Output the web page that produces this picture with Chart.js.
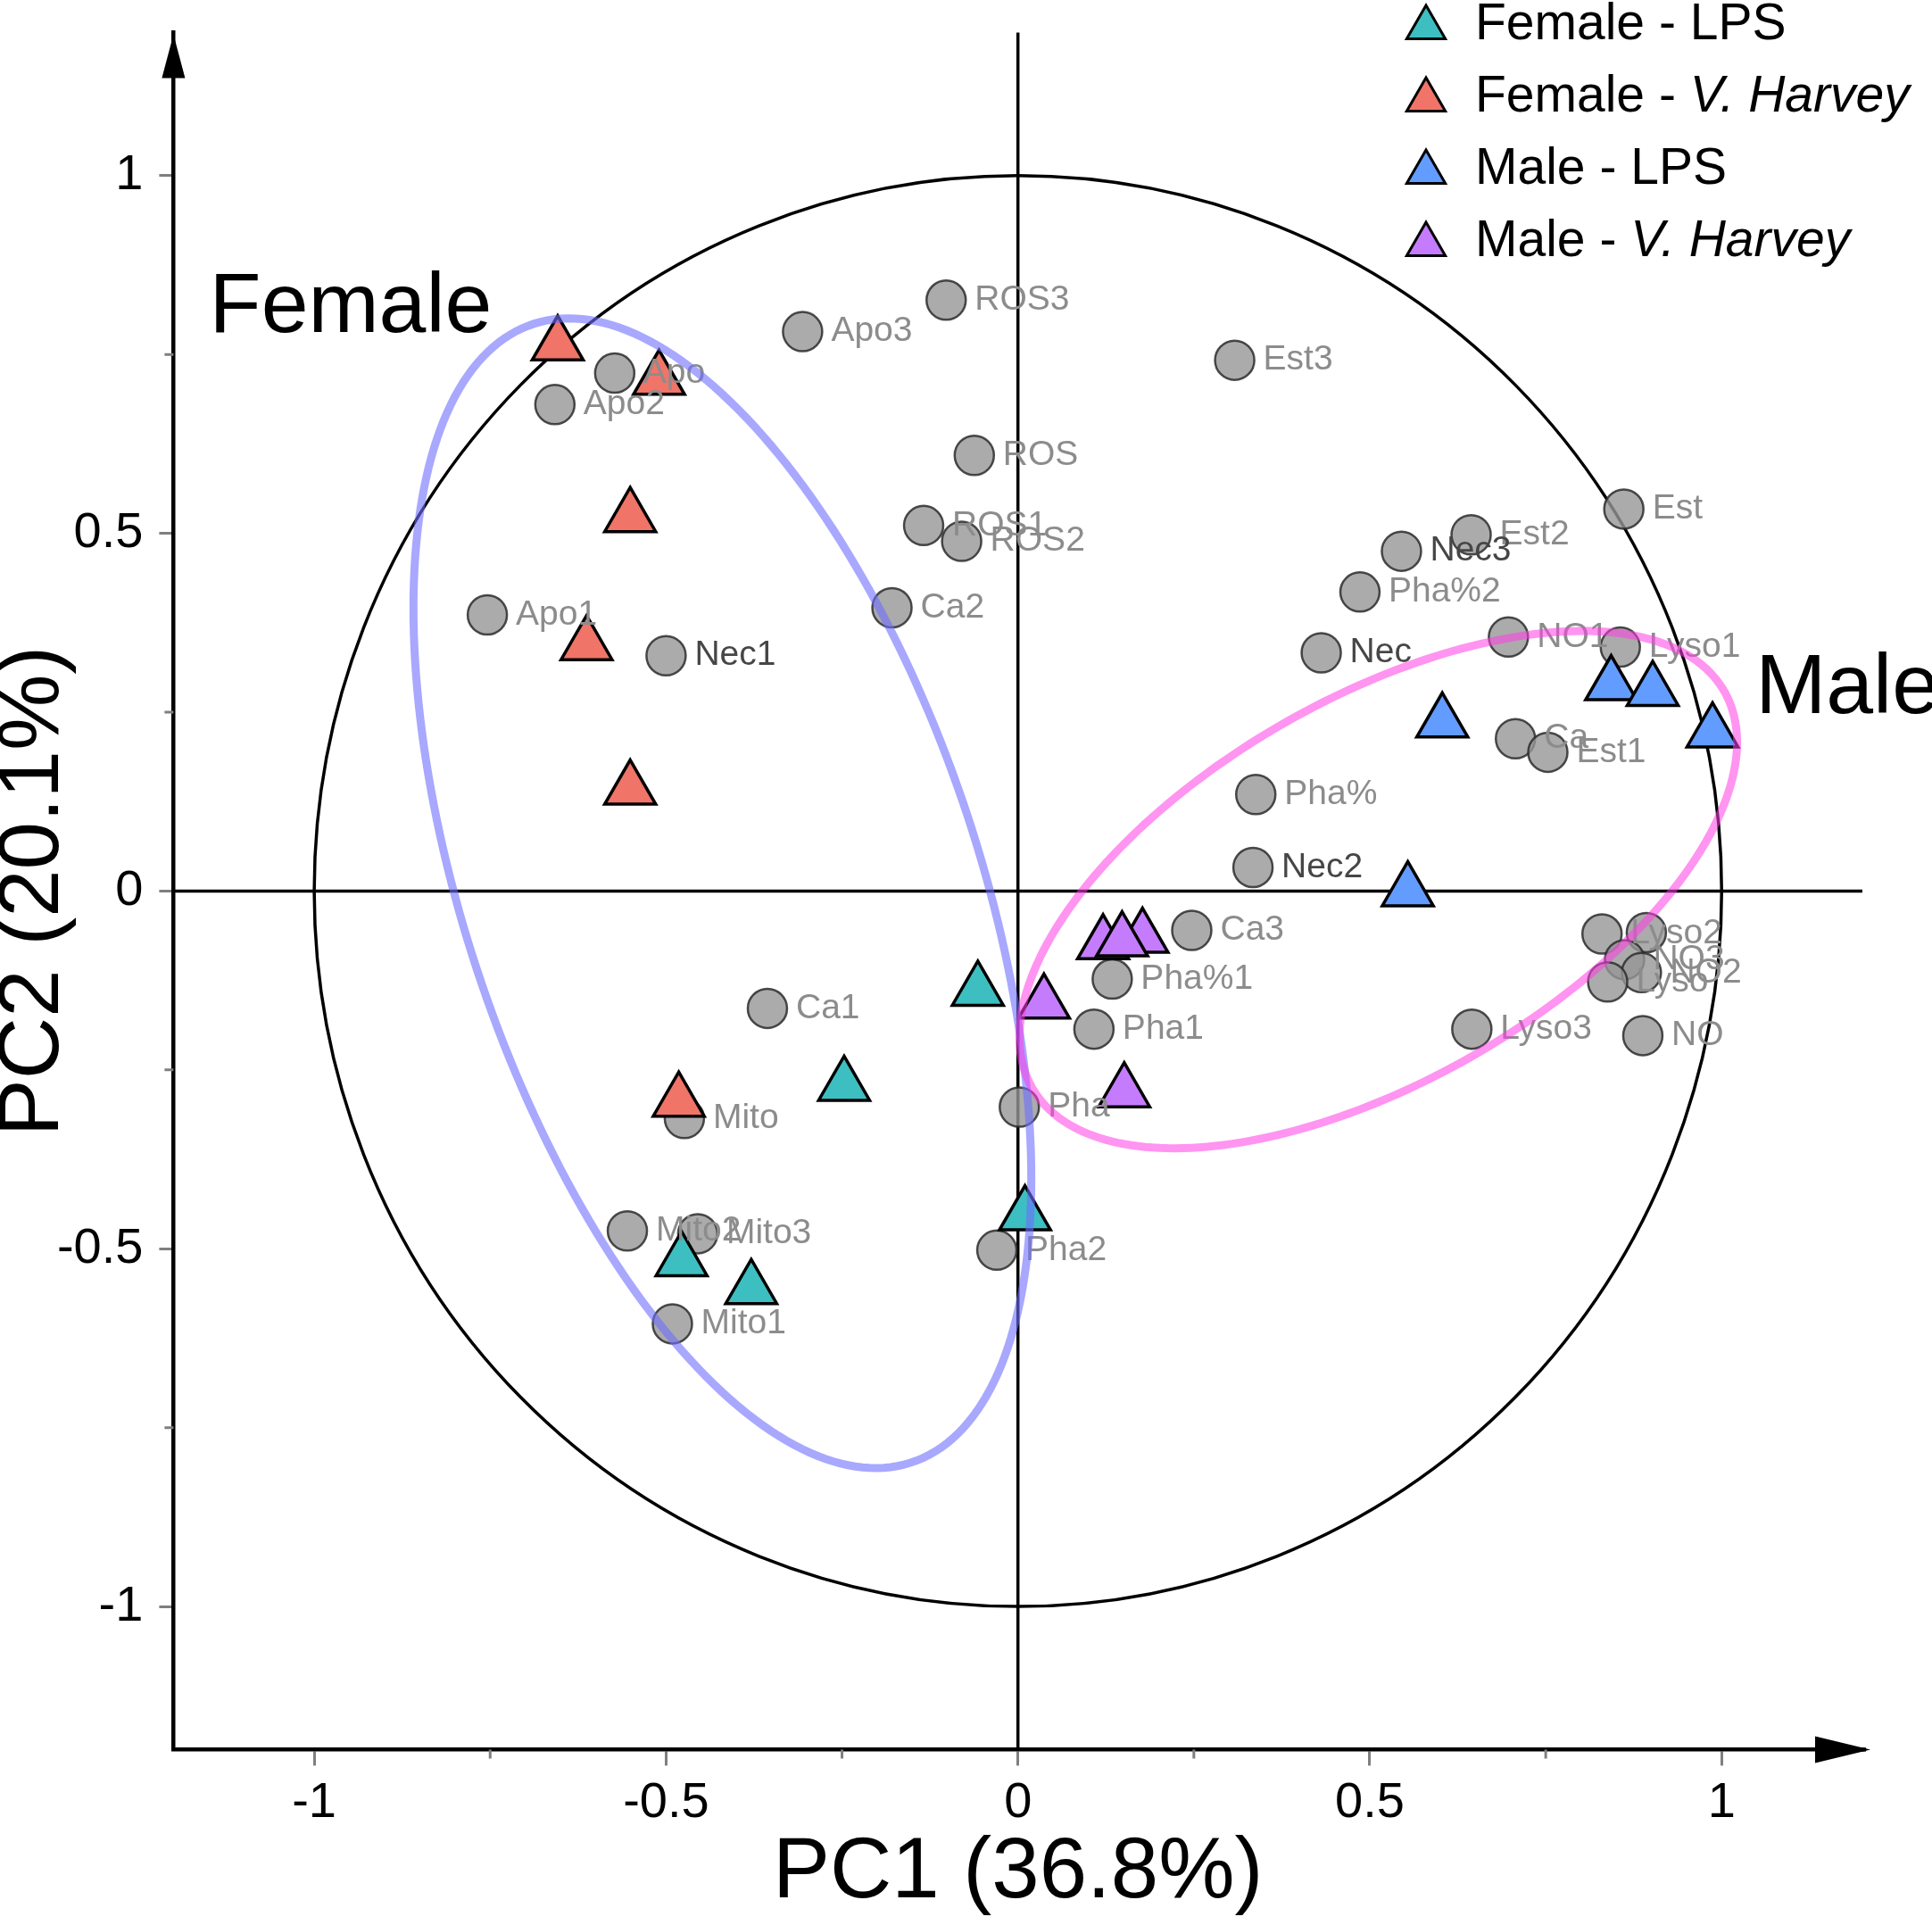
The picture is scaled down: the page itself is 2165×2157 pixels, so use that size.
<!DOCTYPE html>
<html>
<head>
<meta charset="utf-8">
<title>PCA biplot</title>
<script src="https://cdn.jsdelivr.net/npm/chart.js@4.4.1/dist/chart.umd.min.js"></script>
<style>
  html, body { margin: 0; padding: 0; background: #fff; }
  canvas { display: block; }
</style>
</head>
<body>
<canvas id="chart" width="2165" height="2157"></canvas>
<script>
// variable loadings (grey circles)
const varNames = ['Apo3', 'ROS3', 'Est3', 'Apo', 'Apo2', 'ROS', 'ROS1', 'ROS2', 'Ca2', 'Apo1',
  'Nec1', 'Est', 'Est2', 'Nec3', 'Pha%2', 'NO1', 'Lyso1', 'Nec', 'Ca', 'Est1',
  'Pha%', 'Nec2', 'Ca3', 'Pha%1', 'Pha1', 'Pha', 'Ca1', 'Mito', 'Mito2', 'Mito3',
  'Mito1', 'Pha2', 'Lyso2', '', 'NO3', 'NO2', 'Lyso', 'Lyso3', 'NO'];
const varX = [-0.306, -0.102, 0.308, -0.573, -0.658, -0.062, -0.134, -0.080, -0.179, -0.754,
  -0.500, 0.861, 0.644, 0.545, 0.486, 0.697, 0.856, 0.431, 0.707, 0.753,
  0.338, 0.334, 0.247, 0.134, 0.108, 0.002, -0.356, -0.474, -0.555, -0.455,
  -0.491, -0.030, 0.830, 0.893, 0.862, 0.886, 0.838, 0.645, 0.888];
const varY = [0.782, 0.826, 0.742, 0.724, 0.680, 0.609, 0.511, 0.489, 0.396, 0.386,
  0.329, 0.534, 0.498, 0.475, 0.418, 0.355, 0.341, 0.333, 0.213, 0.194,
  0.135, 0.033, -0.055, -0.123, -0.193, -0.302, -0.164, -0.318, -0.475, -0.479,
  -0.605, -0.502, -0.060, -0.058, -0.096, -0.114, -0.127, -0.193, -0.202];
const darkLabels = ['Nec', 'Nec1', 'Nec2', 'Nec3'];

// individuals (triangles), one pair of arrays per group
const femaleLpsX = [-0.057, -0.247, -0.478, -0.379, 0.010];
const femaleLpsY = [-0.139, -0.272, -0.517, -0.556, -0.453];
const femaleVhX = [-0.654, -0.510, -0.551, -0.613, -0.551, -0.482];
const femaleVhY = [0.763, 0.715, 0.523, 0.344, 0.142, -0.294];
const maleLpsX = [0.843, 0.902, 0.603, 0.987, 0.554];
const maleLpsY = [0.288, 0.280, 0.236, 0.222, 0.000];
const maleVhX = [0.121, 0.177, 0.148, 0.037, 0.151];
const maleVhY = [-0.074, -0.065, -0.070, -0.157, -0.281];

const groupNames = ['Female - ', 'Female - ', 'Male - ', 'Male - '];
const groupItalic = ['', 'V. Harvey', '', 'V. Harvey'];
const groupPlain = ['LPS', '', 'LPS', ''];
const groupColors = ['#3dbfc1', '#f07468', '#639cff', '#c57cfc'];

const xTickLabels = [-1, -0.5, 0, 0.5, 1];
const yTickLabels = [-1, -0.5, 0, 0.5, 1];

// concentration ellipses: centre and covariance terms
const ellipseCx = [-0.420, 0.512];
const ellipseCy = [-0.003, 0.002];
const ellipseVarX = [0.1927, 0.2600];
const ellipseVarY = [0.6456, 0.1307];
const ellipseCov = [-0.175, 0.105];
const ellipseColors = ['rgba(110,110,255,0.6)', 'rgba(255,60,230,0.55)'];

const clusterNames = ['Female', 'Male'];
const clusterX = [-1.149, 1.048];
const clusterY = [0.781, 0.249];

const FONT = '"Liberation Sans", Arial, Helvetica, sans-serif';

function pts(xs, ys) {
    return xs.map((v, i) => ({x: v, y: ys[i]}));
}

function isMajor(v) {
    return xTickLabels.includes(Math.round(v * 100) / 100);
}

function triangleSet(label, xs, ys, color, order) {
    return {
        label: label,
        data: pts(xs, ys),
        pointStyle: 'triangle',
        pointRadius: 33,
        pointBackgroundColor: color,
        pointBorderColor: '#000',
        pointBorderWidth: 3.5,
        order: order
    };
}

const biplotPlugin = {
    id: 'biplot',
    beforeDatasetsDraw(chart) {
        const {ctx, scales: {x, y}} = chart;
        const x0 = x.getPixelForValue(0);
        const y0 = y.getPixelForValue(0);
        ctx.save();
        ctx.strokeStyle = '#000';
        ctx.lineWidth = 3.5;
        ctx.beginPath();
        ctx.moveTo(x.getPixelForValue(x.min), y0);
        ctx.lineTo(x.getPixelForValue(x.max), y0);
        ctx.moveTo(x0, y.getPixelForValue(y.min));
        ctx.lineTo(x0, y.getPixelForValue(y.max));
        ctx.stroke();
        // correlation circle (radius 1)
        ctx.beginPath();
        ctx.ellipse(x0, y0, x.getPixelForValue(1) - x0, y0 - y.getPixelForValue(1), 0, 0, Math.PI * 2);
        ctx.stroke();
        ctx.restore();
    },
    afterDatasetsDraw(chart) {
        const {ctx, scales: {x, y}} = chart;
        ctx.save();
        // variable names
        ctx.font = '39px ' + FONT;
        ctx.textAlign = 'left';
        ctx.textBaseline = 'middle';
        varNames.forEach((name, i) => {
            if (!name) return;
            ctx.fillStyle = darkLabels.includes(name) ? 'rgb(70,70,70)' : 'rgb(140,140,140)';
            ctx.fillText(name, x.getPixelForValue(varX[i]) + 32, y.getPixelForValue(varY[i]));
        });
        // group ellipses
        ctx.lineWidth = 9;
        ellipseCx.forEach((cx, k) => {
            const sx = Math.sqrt(ellipseVarX[k]);
            const l21 = ellipseCov[k] / sx;
            const l22 = Math.sqrt(ellipseVarY[k] - l21 * l21);
            ctx.strokeStyle = ellipseColors[k];
            ctx.beginPath();
            for (let s = 0; s <= 240; s++) {
                const t = s / 240 * Math.PI * 2;
                const px = x.getPixelForValue(cx + sx * Math.cos(t));
                const py = y.getPixelForValue(ellipseCy[k] + l21 * Math.cos(t) + l22 * Math.sin(t));
                if (s === 0) ctx.moveTo(px, py); else ctx.lineTo(px, py);
            }
            ctx.closePath();
            ctx.stroke();
        });
        ctx.restore();
    },
    afterDraw(chart) {
        const {ctx, chartArea: area, scales: {x, y}} = chart;
        ctx.save();
        // minor ticks
        ctx.strokeStyle = '#7f7f7f';
        ctx.lineWidth = 3;
        ctx.beginPath();
        x.ticks.forEach(t => {
            if (isMajor(t.value)) return;
            const px = x.getPixelForValue(t.value);
            ctx.moveTo(px, area.bottom);
            ctx.lineTo(px, area.bottom + 10);
        });
        y.ticks.forEach(t => {
            if (isMajor(t.value)) return;
            const py = y.getPixelForValue(t.value);
            ctx.moveTo(area.left, py);
            ctx.lineTo(area.left - 10, py);
        });
        ctx.stroke();

        // axis arrows
        ctx.fillStyle = '#000';
        ctx.strokeStyle = '#000';
        ctx.lineWidth = 4.5;
        ctx.beginPath();
        ctx.moveTo(area.right - 2, area.bottom);
        ctx.lineTo(area.right + 4, area.bottom);
        ctx.stroke();
        ctx.beginPath();
        ctx.moveTo(area.right + 9, area.bottom);
        ctx.lineTo(area.right - 53, area.bottom - 15);
        ctx.lineTo(area.right - 53, area.bottom + 15);
        ctx.closePath();
        ctx.fill();
        ctx.beginPath();
        ctx.moveTo(area.left, area.top + 2);
        ctx.lineTo(area.left + 13, area.top + 51);
        ctx.lineTo(area.left - 13, area.top + 51);
        ctx.closePath();
        ctx.fill();

        // cluster names
        ctx.font = '95px ' + FONT;
        ctx.textAlign = 'left';
        ctx.textBaseline = 'alphabetic';
        clusterNames.forEach((name, i) => {
            ctx.fillText(name, x.getPixelForValue(clusterX[i]), y.getPixelForValue(clusterY[i]));
        });

        // legend
        const rows = [31, 112, 193, 274];
        chart.data.datasets.slice(1).forEach((ds, i) => {
            const cx = 1598, cy = rows[i], r = 25;
            ctx.beginPath();
            ctx.moveTo(cx, cy - r);
            ctx.lineTo(cx + r * Math.sin(Math.PI * 2 / 3), cy + r / 2);
            ctx.lineTo(cx - r * Math.sin(Math.PI * 2 / 3), cy + r / 2);
            ctx.closePath();
            ctx.fillStyle = groupColors[i];
            ctx.fill();
            ctx.lineWidth = 3;
            ctx.strokeStyle = '#000';
            ctx.stroke();
            ctx.fillStyle = '#000';
            ctx.font = '57px ' + FONT;
            const base = cy + 13;
            const txt = groupNames[i] + groupPlain[i];
            ctx.fillText(txt, 1653, base);
            if (groupItalic[i]) {
                const w = ctx.measureText(txt).width;
                ctx.font = 'italic 57px ' + FONT;
                ctx.fillText(groupItalic[i], 1653 + w, base);
            }
        });
        ctx.restore();
    }
};

const tickFont = {family: FONT, size: 56};

new Chart(document.getElementById('chart'), {
    type: 'scatter',
    data: {
        datasets: [
            {
                label: 'Variables',
                data: pts(varX, varY),
                pointStyle: 'circle',
                pointRadius: 22,
                pointBackgroundColor: 'rgba(150,150,150,0.8)',
                pointBorderColor: 'rgba(45,45,45,0.85)',
                pointBorderWidth: 2.5,
                order: 10
            },
            triangleSet('Female - LPS', femaleLpsX, femaleLpsY, groupColors[0], 4),
            triangleSet('Female - V. Harvey', femaleVhX, femaleVhY, groupColors[1], 3),
            triangleSet('Male - LPS', maleLpsX, maleLpsY, groupColors[2], 2),
            triangleSet('Male - V. Harvey', maleVhX, maleVhY, groupColors[3], 1)
        ]
    },
    options: {
        responsive: false,
        devicePixelRatio: 1,
        animation: false,
        events: [],
        layout: {
            padding: {top: 36, right: 78, bottom: 0, left: 0}
        },
        scales: {
            x: {
                type: 'linear',
                position: 'bottom',
                min: -1.2,
                max: 1.2,
                afterFit: function(scale) {
                    scale.height = 196.6;
                    scale.paddingLeft = 0;
                    scale.paddingRight = 0;
                },
                ticks: {
                    stepSize: 0.25,
                    includeBounds: false,
                    autoSkip: false,
                    maxRotation: 0,
                    padding: 9,
                    color: '#000',
                    font: tickFont,
                    callback: function(value) {
                        const v = Math.round(value * 100) / 100;
                        return xTickLabels.includes(v) ? String(v) : '';
                    }
                },
                grid: {
                    drawOnChartArea: false,
                    drawTicks: true,
                    tickLength: 18,
                    tickWidth: 3,
                    tickColor: (c) => (c.tick && isMajor(c.tick.value)) ? '#7f7f7f' : 'transparent'
                },
                border: {display: true, color: '#000', width: 4.5},
                title: {
                    display: true,
                    text: 'PC1 (36.8%)',
                    color: '#000',
                    padding: 0,
                    font: {family: FONT, size: 96}
                }
            },
            y: {
                type: 'linear',
                position: 'left',
                min: -1.2,
                max: 1.2,
                afterFit: function(scale) {
                    scale.width = 194.4;
                    scale.paddingTop = 0;
                    scale.paddingBottom = 0;
                },
                ticks: {
                    stepSize: 0.25,
                    includeBounds: false,
                    autoSkip: false,
                    padding: 18,
                    color: '#000',
                    font: tickFont,
                    callback: function(value) {
                        const v = Math.round(value * 100) / 100;
                        return yTickLabels.includes(v) ? String(v) : '';
                    }
                },
                grid: {
                    drawOnChartArea: false,
                    drawTicks: true,
                    tickLength: 16,
                    tickWidth: 3,
                    tickColor: (c) => (c.tick && isMajor(c.tick.value)) ? '#7f7f7f' : 'transparent'
                },
                border: {display: true, color: '#000', width: 4.5},
                title: {
                    display: true,
                    text: 'PC2 (20.1%)',
                    color: '#000',
                    padding: 0,
                    font: {family: FONT, size: 96, lineHeight: 0.8}
                }
            }
        },
        plugins: {
            legend: {display: false},
            tooltip: {enabled: false}
        }
    },
    plugins: [biplotPlugin]
});
</script>
</body>
</html>
